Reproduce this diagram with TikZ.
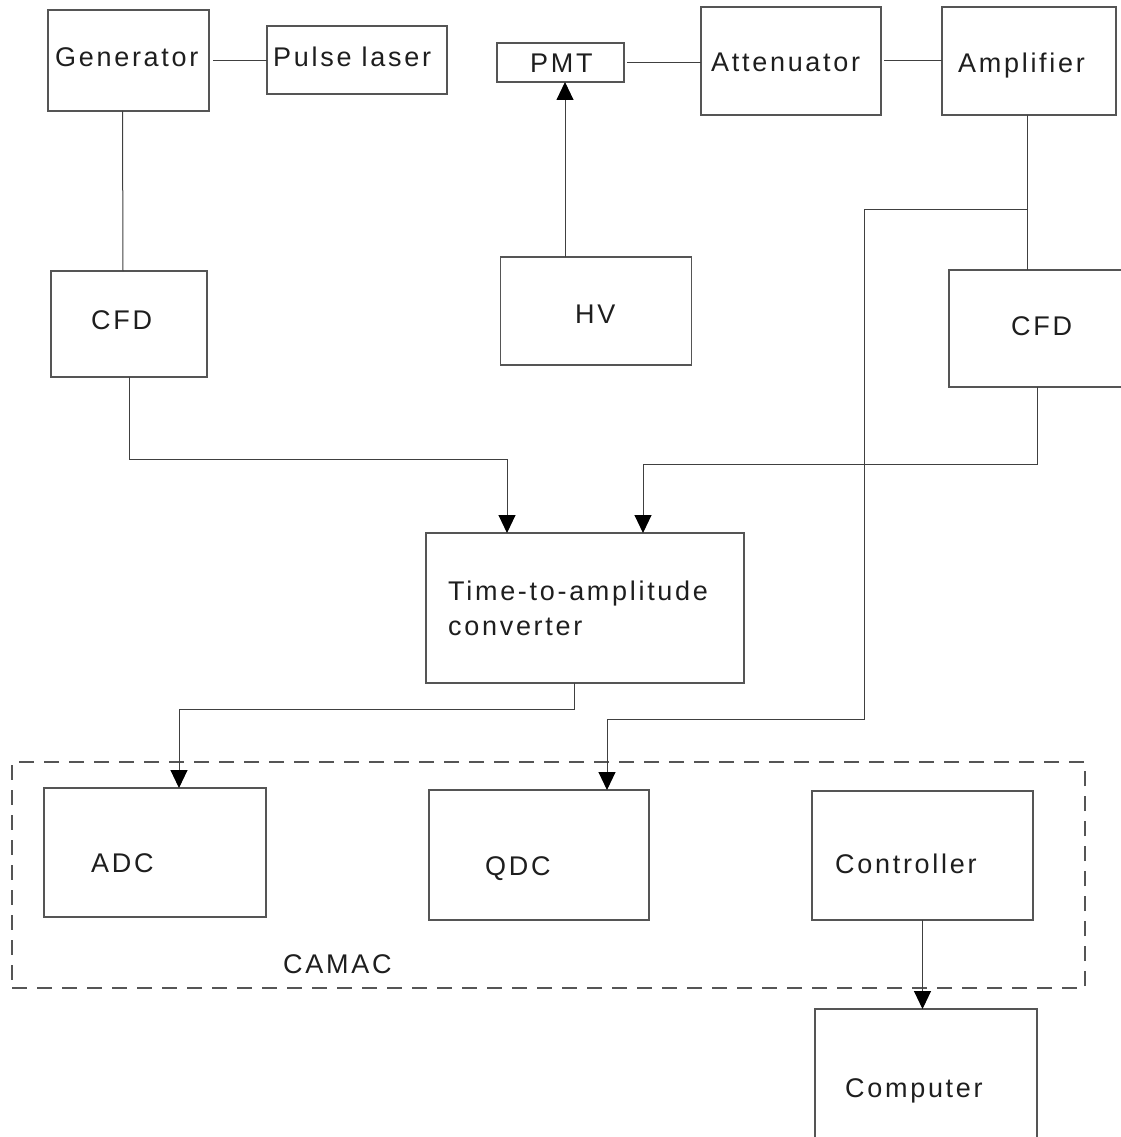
\documentclass[tikz,border=0pt]{standalone}
\usepackage{fontspec}
\usepackage{tikz}
\usetikzlibrary{arrows.meta,calc}
\setmainfont{Liberation Sans}[LetterSpace=10]
\definecolor{edge}{RGB}{85,85,85}
\definecolor{ink}{RGB}{30,30,30}

\begin{document}
\begin{tikzpicture}[
    x=1pt, y=-1pt,
    font=\fontsize{27}{32}\selectfont,
    blk/.style={rectangle, draw=edge, line width=1.1pt, inner sep=0pt, outer sep=0pt},
    lbl/.style={anchor=base west, inner sep=0pt, text=ink},
    wire/.style={draw=ink!85, line width=1pt},
    arrow/.style={wire, -{Triangle[length=18pt,width=17pt,color=black]}}
]
    \useasboundingbox (0,0) rectangle (1120,1137);

    \node[blk, minimum width=161pt, minimum height=101pt] (gen) at (128.5,60.5) {};
    \node[blk, minimum width=180pt, minimum height=68pt] (laser) at (357,60) {};
    \node[blk, minimum width=127pt, minimum height=39pt] (pmt) at (560.5,62.5) {};
    \node[blk, minimum width=180pt, minimum height=108pt] (att) at (791,61) {};
    \node[blk, minimum width=174pt, minimum height=108pt] (amp) at (1029,61) {};
    \node[blk, minimum width=156pt, minimum height=106pt] (cfdl) at (129,324) {};
    \node[blk, minimum width=191pt, minimum height=108pt] (hv) at (596,311) {};
    \node[blk, minimum width=176pt, minimum height=117pt] (cfdr) at (1037,328.5) {};
    \node[blk, minimum width=318pt, minimum height=150pt] (tac) at (585,608) {};
    \node[blk, dashed, dash pattern=on 15pt off 10pt, minimum width=1073pt, minimum height=226pt] (camac) at (548.5,875) {};
    \node[blk, minimum width=222pt, minimum height=129pt] (adc) at (155,852.5) {};
    \node[blk, minimum width=220pt, minimum height=130pt] (qdc) at (539,855) {};
    \node[blk, minimum width=221pt, minimum height=129pt] (ctrl) at (922.5,855.5) {};
    \node[blk, minimum width=222pt, minimum height=151pt] (comp) at (926,1084.5) {};

    \node[lbl] (genT) at (55,67) {Generator};
    \node[lbl] (laserT) at (273,67) {Pulse laser};
    \node[lbl] (pmtT) at (530,73) {PMT};
    \node[lbl] (attT) at (711,72) {Attenuator};
    \node[lbl] (ampT) at (958,73) {Amplifier};
    \node[lbl] (cfdlT) at (91,329) {CFD};
    \node[lbl] (hvT) at (575,323) {HV};
    \node[lbl] (cfdrT) at (1011,335) {CFD};
    \node[lbl] (tacT) at (448,600) {Time-to-amplitude};
    \node[lbl] (tacU) at (448,635) {converter};
    \node[lbl] (adcT) at (91,872) {ADC};
    \node[lbl] (qdcT) at (485,875) {QDC};
    \node[lbl] (ctrlT) at (835,873) {Controller};
    \node[lbl] (camacT) at (283,973) {CAMAC};
    \node[lbl] (compT) at (845,1097) {Computer};

    \coordinate (split) at (1027,209);
    \coordinate (qbend) at (864,719);

    \draw[wire] ([xshift=4pt]gen.east) -- (laser.west |- gen.east);
    \draw[wire] ([xshift=-6pt]gen.south) -- ([xshift=-6pt]cfdl.north);
    \draw[wire] ([xshift=3pt]pmt.east) -- (att.west |- pmt.east);
    \draw[wire] ([xshift=3pt]att.east) -- (amp.west |- att.east);
    \draw[arrow] ([xshift=4.5pt]pmt.south |- hv.north) -- ([xshift=4.5pt]pmt.south);
    \draw[wire] ([xshift=-2pt]amp.south) -- (split) -- (split |- cfdr.north);
    \draw[arrow] (split) -| (qbend) -| ([xshift=68pt]qdc.north);
    \draw[arrow] (cfdl.south) -- ++(0,82) -| ([xshift=-78pt]tac.north);
    \draw[arrow] (cfdr.south) -- ++(0,77) -| ([xshift=58pt]tac.north);
    \draw[arrow] ([xshift=-11pt]tac.south) -- ++(0,26) -| ([xshift=24pt]adc.north);
    \draw[arrow] (ctrl.south) -- (ctrl.south |- comp.north);
\end{tikzpicture}
\end{document}
